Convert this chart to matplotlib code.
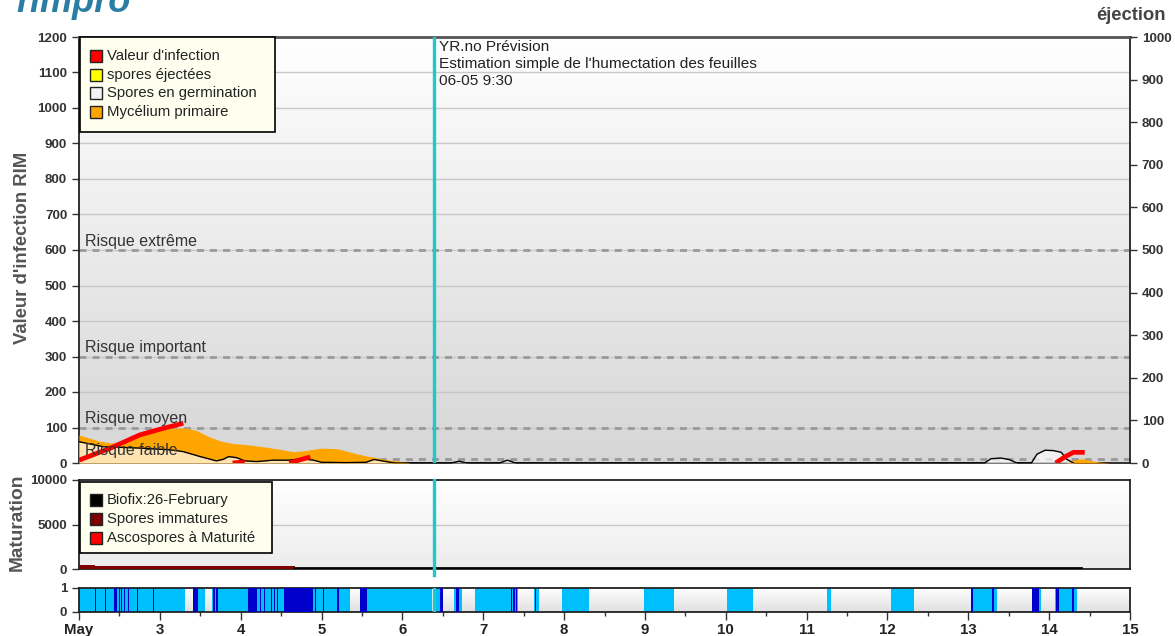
"""RIMpro style apple-scab chart: infection value, maturation and leaf wetness."""
import numpy as np
import matplotlib
matplotlib.use("Agg")
import matplotlib.pyplot as plt
from matplotlib.colors import LinearSegmentedColormap
from matplotlib.patches import Rectangle

plt.rcParams['font.family'] = ['Liberation Sans', 'DejaVu Sans']

W, H = 1175, 636
nan = np.nan

# --- data (x = days since 2 May 00:00) ---------------------------------------
day_ticks = list(range(14))
day_labels = ["May"] + [str(d) for d in range(3, 16)]
forecast_day = 4 + 9.5 / 24          # 06-05 9:30

risk_levels = [600, 300, 100, 12]
risk_labels = ["Risque extrême", "Risque important", "Risque moyen", "Risque faible"]

myc_days = [0, 0.1, 0.25, 0.4, 0.6, 0.8, 1.0, 1.15, 1.3, 1.45, 1.6, 1.75, 1.9, 2.1,
            2.3, 2.5, 2.65, 2.8, 3.0, 3.2, 3.4, 3.55, 3.7, 3.85, 4.0, 4.1, 12.2,
            12.3, 12.4, 12.5, 12.6, 12.75]
myc_vals = [79, 72, 62, 56, 65, 80, 92, 98, 99, 92, 75, 62, 55, 51,
            45, 38, 32, 35, 42, 40, 28, 20, 14, 8, 4, 0, 0,
            8, 12, 8, 3, 0]

germ_days = [0, 0.3, 0.75, 1.13, 1.29, 1.5, 1.7, 1.78, 1.85, 1.95, 2.05, 2.2, 2.4,
             2.6, 2.75, 2.9, 3.0, 3.3, 3.55, 3.65, 3.75, 3.9, 4.6, 4.7, 4.8, 5.2,
             5.3, 5.4, 11.2, 11.28, 11.4, 11.5, 11.6, 11.78, 11.85, 11.95, 12.05,
             12.15, 12.22, 12.3]
germ_vals = [60, 46, 42, 37, 32, 18, 6, 10, 18, 15, 6, 4, 8,
             8, 12, 8, 2, 1, 2, 10, 6, 0, 0, 5, 0, 0,
             8, 0, 0, 12, 14, 10, 0, 0, 25, 36, 35,
             30, 10, 0]

inf_days = [0, 0.38, 0.75, 1.0, 1.29, nan, 1.9, 2.05, nan, 2.6, 2.75, 2.86, nan,
            12.08, 12.2, 12.3, 12.44]
inf_vals = [8, 41, 79, 95, 112, nan, 0, 3, nan, 0, 10, 17, nan,
            0, 18, 30, 30]

immature_days = [0, 0.2, 0.2, 2.67]
immature_vals = [500, 500, 330, 330]
biofix_days = [2.67, 12.4]
biofix_vals = [60, 60]

wet_light = [(0, 1.31), (1.475, 1.56), (1.64, 3.35), (3.56, 4.37), (4.40, 4.46),
             (4.64, 4.74), (4.9, 5.43), (5.63, 5.69), (5.97, 6.31), (6.99, 7.36),
             (8.01, 8.34), (9.25, 9.30), (10.04, 10.33), (11.03, 11.36),
             (11.79, 11.90), (12.07, 12.34)]
wet_dark = [(0.20, 0.212), (0.316, 0.328), (0.427, 0.44), (0.45, 0.465), (0.49, 0.505),
            (0.52, 0.535), (0.56, 0.575), (0.60, 0.615), (0.715, 0.727), (0.913, 0.925),
            (1.41, 1.475), (1.66, 1.68), (1.70, 1.72), (1.74, 1.75), (2.09, 2.20),
            (2.235, 2.25), (2.29, 2.30), (2.37, 2.385), (2.41, 2.42), (2.45, 2.465),
            (2.53, 2.90), (2.915, 2.93), (3.015, 3.03), (3.195, 3.21), (3.47, 3.56),
            (4.46, 4.50), (4.66, 4.70), (5.34, 5.36), (5.37, 5.39), (5.40, 5.415),
            (5.64, 5.648), (11.03, 11.06), (11.29, 11.32), (11.79, 11.87),
            (12.08, 12.12), (12.28, 12.31)]


def fx(px):
    return px / W


def fy(py):
    return 1 - py / H


def gradient(ax, top, bottom):
    cmap = LinearSegmentedColormap.from_list("g", [bottom, top])
    ax.imshow(np.linspace(0, 1, 256).reshape(-1, 1), extent=[0, 1, 0, 1],
              transform=ax.transAxes, cmap=cmap, aspect='auto', origin='lower', zorder=0)


def legend_box(fig, x0, y0, x1, y1, rows, items):
    fig.patches.append(Rectangle((fx(x0), fy(y1)), fx(x1) - fx(x0), fy(y0) - fy(y1),
                                 transform=fig.transFigure, facecolor='#ffffef',
                                 edgecolor='black', lw=1.2, zorder=5))
    for ry, (label, col) in zip(rows, items):
        fig.patches.append(Rectangle((fx(90), fy(ry + 6)), fx(12), 12 / H,
                                     transform=fig.transFigure, facecolor=col,
                                     edgecolor='#222', lw=1, zorder=6))
        fig.text(fx(107), fy(ry), label, fontsize=10.7, color='#222',
                 va='center', ha='left', zorder=7)


tick_kw = dict(labelsize=9.6, labelcolor='#333', width=1, length=5, color='#333')

fig = plt.figure(figsize=(W / 100, H / 100), dpi=100)

# --- main panel ---------------------------------------------------------------
ax = fig.add_axes([fx(79), fy(463), fx(1130) - fx(79), fy(37) - fy(463)])
gradient(ax, '#ffffff', '#d6d6d6')
for v in range(100, 1200, 100):
    ax.axhline(v, color='#c8c8c8', lw=1, zorder=1)
for lvl, lab in zip(risk_levels, risk_labels):
    ax.axhline(lvl, color='#999999', lw=2, ls=(0, (2.5, 2.2)), zorder=2)
    ax.text(0.08, lvl + 3, lab, fontsize=11.5, color='#333', va='bottom', zorder=6)
ax.fill_between(myc_days, myc_vals, color='#ffa500', lw=0, zorder=3)
ax.fill_between(germ_days, germ_vals, color='white', alpha=0.7, lw=0, zorder=4)
ax.plot(germ_days, germ_vals, color='black', lw=1, zorder=4)
ax.plot(inf_days, inf_vals, color='#ff0000', lw=3.4, solid_capstyle='butt', zorder=5)
ax.axvline(forecast_day, color='#1ec8cf', lw=2.4, zorder=6)
ax.text(forecast_day + 0.06, 1191,
        "YR.no Prévision\nEstimation simple de l'humectation des feuilles\n06-05 9:30",
        fontsize=11.1, color='#222', va='top', ha='left', linespacing=1.25, zorder=6)
ax.set_xlim(0, 13)
ax.set_ylim(0, 1200)
ax.set_yticks(range(0, 1201, 100))
ax.set_xticks([])
ax.tick_params(axis='y', **tick_kw)
for lab in ax.get_yticklabels():
    lab.set_fontweight('bold')
ax.spines['top'].set_color('#555')
ax.spines['top'].set_linewidth(2)
for s in ('left', 'bottom', 'right'):
    ax.spines[s].set_color('#222')
    ax.spines[s].set_linewidth(1.3)

ax2 = ax.twinx()
ax2.set_ylim(0, 1000)
ax2.set_yticks(range(0, 1001, 100))
ax2.tick_params(axis='y', **tick_kw)
for lab in ax2.get_yticklabels():
    lab.set_fontweight('bold')
for s in ax2.spines.values():
    s.set_visible(False)

# --- maturation panel ---------------------------------------------------------
axm = fig.add_axes([fx(79), fy(569), fx(1130) - fx(79), fy(480) - fy(569)])
gradient(axm, '#ffffff', '#ececec')
axm.axhline(5000, color='#c8c8c8', lw=1, zorder=1)
axm.fill_between(immature_days, immature_vals, color='#800000', lw=0, zorder=3)
axm.plot(biofix_days, biofix_vals, color='black', lw=2, zorder=3)
axm.axvline(forecast_day, ymin=-0.07, ymax=1, color='#1ec8cf', lw=2.4, zorder=6,
            clip_on=False)
axm.set_xlim(0, 13)
axm.set_ylim(0, 10000)
axm.set_yticks([0, 5000, 10000])
axm.set_xticks([])
axm.tick_params(axis='y', **tick_kw)
for lab in axm.get_yticklabels():
    lab.set_fontweight('bold')
for s in axm.spines.values():
    s.set_color('#222')
    s.set_linewidth(1.3)

# --- leaf wetness panel -------------------------------------------------------
axw = fig.add_axes([fx(79), fy(612), fx(1130) - fx(79), fy(588) - fy(612)])
gradient(axw, '#ffffff', '#e0e0e0')
for s, e in wet_light:
    axw.axvspan(s, e, color='#00bfff', lw=0, zorder=2)
for s, e in wet_dark:
    axw.axvspan(s, e, color='#0000cd', lw=0, zorder=3)
axw.axvline(forecast_day, color='#1ec8cf', lw=2.4, zorder=6)
axw.set_xlim(0, 13)
axw.set_ylim(0, 1)
axw.set_yticks([0, 1])
axw.set_xticks(day_ticks)
axw.set_xticklabels(day_labels)
axw.set_xticks(np.arange(0.5, 13, 1), minor=True)
axw.tick_params(axis='y', **tick_kw)
axw.tick_params(axis='x', labelsize=10.8, labelcolor='#222', length=6, width=1,
                color='#333', pad=2)
axw.tick_params(axis='x', which='minor', length=3, width=1, color='#333')
for lab in axw.get_yticklabels() + axw.get_xticklabels():
    lab.set_fontweight('bold')
for s in axw.spines.values():
    s.set_color('#222')
    s.set_linewidth(1.3)

# --- legends and labels -------------------------------------------------------
legend_box(fig, 80, 37, 275, 132, [56, 75, 93, 112],
           [("Valeur d'infection", '#ff0000'), ("spores éjectées", '#ffff00'),
            ("Spores en germination", '#f4f4f4'), ("Mycélium primaire", '#ffa500')])
legend_box(fig, 80, 482, 272, 553, [500, 519, 538],
           [("Biofix:26-February", '#000000'), ("Spores immatures", '#800000'),
            ("Ascospores à Maturité", '#ff0000')])

fig.text(fx(23), fy(248), "Valeur d'infection RIM", rotation=90, fontsize=13.3,
         fontweight='bold', color='#555', ha='center', va='center')
fig.text(fx(17), fy(522), "Maturation", rotation=90, fontsize=13.8,
         fontweight='bold', color='#555', ha='center', va='center')
fig.text(fx(1166), fy(15), "éjection", fontsize=13.3, fontweight='bold', color='#444',
         ha='right', va='center')
fig.text(fx(16), fy(12), "rimpro", fontsize=26, fontweight='bold', style='italic',
         color='#2b7ea3', ha='left', va='baseline')

fig.savefig("out.png", dpi=100)
